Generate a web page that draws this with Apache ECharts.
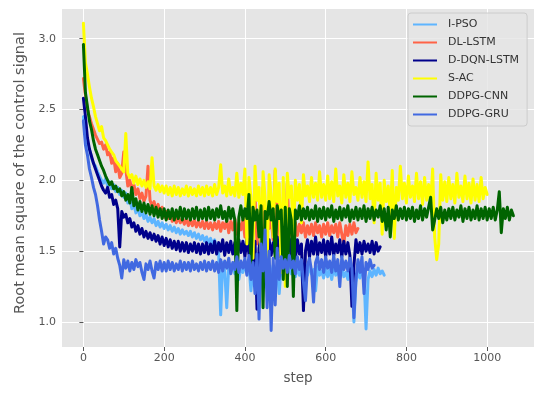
<!DOCTYPE html>
<html><head><meta charset="utf-8">
<script src="https://cdn.jsdelivr.net/npm/echarts@6/dist/echarts.min.js"></script>
<style>html,body{margin:0;padding:0;background:#fff}#c{width:550px;height:398px}</style>
</head><body><div id="c"></div>
<script>
// sampling interval (steps) of the value arrays below
const STEP = 5;
const xTicks = [0, 200, 400, 600, 800, 1000];
const yTicks = [1.0, 1.5, 2.0, 2.5, 3.0];
const seriesNames = ['I-PSO', 'DL-LSTM', 'D-DQN-LSTM', 'S-AC', 'DDPG-CNN', 'DDPG-GRU'];

const iPSO = [
2.45,2.32,2.25,2.22,2.16,2.12,2.10,2.06,2.03,2.00,1.98,2.01,1.96,1.99,1.94,1.97,1.92,1.95,1.90,1.93,
1.88,1.91,1.84,1.87,1.80,1.83,1.77,1.80,1.75,1.78,1.73,1.76,1.71,1.74,1.70,1.73,1.68,1.71,1.67,1.70,
1.66,1.69,1.65,1.68,1.64,1.67,1.63,1.66,1.62,1.65,1.62,1.64,1.61,1.64,1.60,1.63,1.59,1.62,1.58,1.61,
1.57,1.60,1.56,1.59,1.55,1.58,1.52,1.48,1.05,1.42,1.36,1.10,1.40,1.35,1.41,1.34,1.40,1.30,1.39,1.35,
1.41,1.34,1.40,1.22,1.38,1.33,1.42,1.15,1.39,1.34,1.41,1.35,1.38,1.32,1.40,1.34,1.39,1.20,1.41,1.35,
1.38,1.33,1.40,1.34,1.37,1.32,1.39,1.33,1.36,1.20,1.38,1.33,1.40,1.34,1.37,1.22,1.39,1.33,1.36,1.31,
1.38,1.32,1.37,1.30,1.39,1.33,1.36,1.31,1.38,1.32,1.35,1.30,1.37,1.31,1.00,1.28,1.36,1.31,1.38,1.33,
0.95,1.30,1.36,1.32,1.37,1.33,1.38,1.34,1.36,1.33];

const dlLSTM = [
2.72,2.60,2.50,2.45,2.40,2.36,2.32,2.29,2.26,2.27,2.22,2.25,2.18,2.20,2.12,2.16,2.06,2.12,2.02,2.05,
2.20,2.08,1.96,2.00,1.93,1.97,1.90,1.94,1.87,1.91,1.85,1.89,2.10,1.86,1.82,1.85,1.79,1.83,1.77,1.81,
1.74,1.78,1.73,1.76,1.71,1.75,1.70,1.74,1.70,1.73,1.69,1.73,1.68,1.72,1.68,1.72,1.67,1.71,1.67,1.71,
1.66,1.71,1.66,1.70,1.65,1.70,1.66,1.71,1.64,1.70,1.66,1.72,1.63,1.71,1.65,1.73,1.62,1.70,1.65,1.72,
1.60,1.85,1.50,1.78,1.64,1.90,1.55,1.75,1.62,1.95,1.48,1.80,1.66,1.72,1.58,2.07,1.60,1.88,1.55,1.76,
1.62,1.98,1.60,1.72,1.64,1.70,1.61,1.69,1.63,1.70,1.60,1.68,1.62,1.69,1.61,1.70,1.63,1.68,1.60,1.69,
1.62,1.70,1.61,1.68,1.63,1.69,1.60,1.70,1.62,1.55,1.68,1.61,1.69,1.62,1.70,1.63,1.66];

const dDQN = [
2.58,2.45,2.30,2.22,2.17,2.12,2.08,2.04,2.00,1.96,1.93,1.91,1.95,1.88,1.90,1.83,1.86,1.80,1.53,1.78,
1.74,1.76,1.70,1.73,1.67,1.70,1.64,1.68,1.62,1.66,1.60,1.64,1.59,1.63,1.58,1.62,1.57,1.61,1.55,1.60,
1.54,1.59,1.53,1.58,1.52,1.57,1.51,1.57,1.50,1.56,1.50,1.56,1.49,1.55,1.50,1.56,1.49,1.55,1.48,1.55,
1.49,1.56,1.48,1.55,1.49,1.57,1.48,1.56,1.50,1.58,1.47,1.56,1.49,1.57,1.48,1.56,1.47,1.58,1.49,1.57,
1.46,1.59,1.48,1.55,1.40,1.57,1.09,1.52,1.60,1.45,1.55,1.30,1.58,1.47,1.56,1.48,1.60,1.46,1.55,1.49,
1.57,1.46,1.59,1.47,1.56,1.45,1.58,1.48,1.55,1.08,1.50,1.58,1.46,1.57,1.48,1.60,1.47,1.56,1.49,1.58,
1.46,1.57,1.48,1.60,1.47,1.55,1.49,1.58,1.46,1.57,1.48,1.56,1.47,1.11,1.40,1.58,1.49,1.56,1.48,1.57,
1.50,1.55,1.49,1.57,1.48,1.56,1.50,1.53];

const sAC = [
3.11,2.83,2.75,2.66,2.58,2.52,2.45,2.40,2.35,2.38,2.30,2.28,2.25,2.22,2.20,2.18,2.14,2.12,2.10,2.08,
2.06,2.33,2.05,2.02,2.04,1.98,2.03,1.97,2.01,1.96,2.00,1.95,1.99,1.94,2.16,1.96,1.93,1.97,1.92,1.96,
1.91,1.96,1.90,1.95,1.89,1.96,1.90,1.95,1.89,1.94,1.90,1.96,1.89,1.95,1.90,1.94,1.89,1.96,1.90,1.95,
1.89,1.96,1.90,1.95,1.89,1.97,1.90,1.95,2.11,1.91,1.96,1.89,2.01,1.90,1.95,1.89,2.05,1.88,1.98,1.90,
2.08,1.55,2.02,1.88,1.45,2.10,1.86,1.95,1.50,2.06,1.88,1.40,2.04,1.90,1.60,2.08,1.85,1.98,1.35,2.02,
1.25,2.05,1.88,1.96,1.55,2.00,1.86,1.97,1.70,2.04,1.89,1.96,1.85,2.02,1.88,1.98,1.86,2.06,1.88,1.97,
1.86,2.03,1.87,1.99,1.85,2.08,1.89,1.96,1.84,2.04,1.88,1.98,1.85,2.06,1.90,1.95,1.86,2.02,1.88,1.99,
1.85,2.13,1.87,1.97,1.70,2.05,1.86,1.98,1.62,2.00,1.85,1.96,1.75,2.07,1.59,1.95,1.86,2.10,1.87,1.98,
1.84,2.03,1.88,1.96,1.85,2.05,1.87,1.99,1.83,2.02,1.86,1.97,1.84,2.08,1.60,1.44,1.55,2.04,1.86,1.99,
1.85,2.02,1.87,1.97,1.84,2.05,1.88,1.96,1.85,2.03,1.87,1.98,1.84,2.01,1.86,1.97,1.85,2.02,1.87,1.95,1.90];

const ddpgCNN = [
2.96,2.62,2.52,2.42,2.36,2.28,2.22,2.18,2.14,2.10,2.07,2.03,2.00,1.97,1.99,1.94,1.96,1.92,1.94,1.89,
1.92,1.86,1.90,1.84,1.95,1.82,1.87,1.79,1.85,1.78,1.84,1.77,1.83,1.76,1.82,1.75,1.81,1.74,1.80,1.73,
1.80,1.72,1.79,1.73,1.80,1.72,1.79,1.73,1.81,1.72,1.80,1.73,1.79,1.72,1.80,1.73,1.81,1.72,1.79,1.73,
1.80,1.72,1.81,1.73,1.79,1.72,1.80,1.74,1.82,1.73,1.78,1.71,1.81,1.73,1.80,1.72,1.08,1.74,1.82,1.72,
1.80,1.73,1.90,1.40,1.81,1.72,1.79,1.60,1.82,1.10,1.78,1.73,1.85,1.72,1.80,1.45,1.82,1.73,1.79,1.30,
1.81,1.25,1.80,1.72,1.18,1.79,1.73,1.82,1.72,1.80,1.73,1.81,1.72,1.79,1.73,1.82,1.71,1.80,1.73,1.81,
1.72,1.80,1.74,1.82,1.71,1.79,1.73,1.81,1.72,1.80,1.74,1.82,1.71,1.79,1.73,1.81,1.72,1.80,1.73,1.82,
1.71,1.80,1.73,1.81,1.72,1.79,1.74,1.82,1.71,1.80,1.65,1.81,1.60,1.79,1.73,1.82,1.72,1.80,1.73,1.81,
1.72,1.80,1.73,1.81,1.71,1.79,1.73,1.82,1.72,1.80,1.74,1.81,1.88,1.65,1.72,1.80,1.73,1.81,1.70,1.79,
1.72,1.80,1.73,1.81,1.72,1.79,1.74,1.82,1.71,1.80,1.73,1.81,1.72,1.79,1.73,1.82,1.72,1.80,1.73,1.81,
1.72,1.80,1.73,1.81,1.72,1.79,1.92,1.63,1.80,1.73,1.81,1.72,1.79,1.75];

const ddpgGRU = [
2.42,2.25,2.18,2.08,2.02,1.95,1.90,1.82,1.72,1.64,1.55,1.60,1.58,1.52,1.56,1.48,1.52,1.45,1.40,1.31,
1.44,1.38,1.43,1.36,1.42,1.37,1.44,1.39,1.42,1.35,1.30,1.41,1.37,1.43,1.36,1.31,1.42,1.37,1.43,1.36,
1.42,1.36,1.43,1.37,1.42,1.36,1.41,1.37,1.43,1.36,1.42,1.37,1.42,1.36,1.43,1.37,1.41,1.36,1.42,1.37,
1.43,1.36,1.42,1.37,1.43,1.36,1.42,1.35,1.44,1.36,1.43,1.38,1.45,1.34,1.42,1.37,1.46,1.35,1.43,1.38,
1.45,1.33,1.47,1.30,1.42,1.20,1.48,1.02,1.55,1.36,1.65,1.10,1.50,0.94,1.45,1.12,1.52,1.30,1.46,1.38,
1.44,1.35,1.47,1.38,1.43,1.34,1.46,1.37,1.44,1.28,1.15,1.40,1.45,1.36,1.14,1.42,1.46,1.37,1.44,1.35,
1.46,1.38,1.43,1.35,1.47,1.36,1.44,1.25,1.46,1.37,1.43,1.36,1.45,1.38,1.03,1.30,1.44,1.35,1.46,1.20,
1.42,1.37,1.44,1.38,1.40];

const seriesValues = [iPSO, dlLSTM, dDQN, sAC, ddpgCNN, ddpgGRU];
const seriesColors = ['#5EB5FF', '#FF6347', '#00008B', '#FFFF00', '#006400', '#4169E1'];

const FONT = 'DejaVu Sans';
const chart = echarts.init(document.getElementById('c'), null, {renderer: 'canvas'});
chart.setOption({
  animation: false,
  backgroundColor: '#ffffff',
  textStyle: {fontFamily: FONT},
  grid: {left: 62, right: 16, top: 9, bottom: 51, show: true, backgroundColor: '#E5E5E5', borderWidth: 0},
  xAxis: {
    type: 'value', min: -53, max: 1116,
    name: 'step', nameLocation: 'middle', nameGap: 24,
    nameTextStyle: {fontSize: 13.5, color: '#555555', fontFamily: FONT},
    axisLine: {show: false},
    axisTick: {show: true, length: 4, lineStyle: {color: '#555555'}, customValues: xTicks},
    axisLabel: {color: '#555555', fontSize: 11, margin: 6, customValues: xTicks,
      formatter: v => String(v), fontFamily: FONT},
    splitLine: {show: true, lineStyle: {color: '#ffffff', width: 1}}
  },
  yAxis: {
    type: 'value', min: 0.823, max: 3.21,
    name: 'Root mean square of the control signal', nameLocation: 'middle', nameGap: 34,
    nameTextStyle: {fontSize: 14.5, color: '#555555', fontFamily: FONT, padding: [0, 0, 0, 10]},
    axisLine: {show: false},
    axisTick: {show: true, length: 4, lineStyle: {color: '#555555'}, customValues: yTicks},
    axisLabel: {color: '#555555', fontSize: 11, margin: 6, customValues: yTicks,
      formatter: v => Number(v).toFixed(1), fontFamily: FONT},
    splitLine: {show: true, lineStyle: {color: '#ffffff', width: 1}}
  },
  legend: {
    orient: 'vertical', left: 408, top: 13,
    backgroundColor: 'rgba(229,229,229,0.8)', borderColor: '#CCCCCC', borderWidth: 1, borderRadius: 3,
    padding: [5, 8, 5, 5], itemGap: 5, itemWidth: 24, itemHeight: 2, icon: 'rect',
    textStyle: {fontSize: 11, color: '#333333', fontFamily: FONT, lineHeight: 13, padding: [0, 0, 0, 6]},
    data: seriesNames
  },
  series: seriesNames.map((name, k) => ({
    name: name, type: 'line', showSymbol: false, symbol: 'none',
    color: seriesColors[k],
    lineStyle: {width: 3, color: seriesColors[k], join: 'round', cap: 'round'},
    data: seriesValues[k].map((v, i) => [i * STEP, v])
  }))
});
</script></body></html>
